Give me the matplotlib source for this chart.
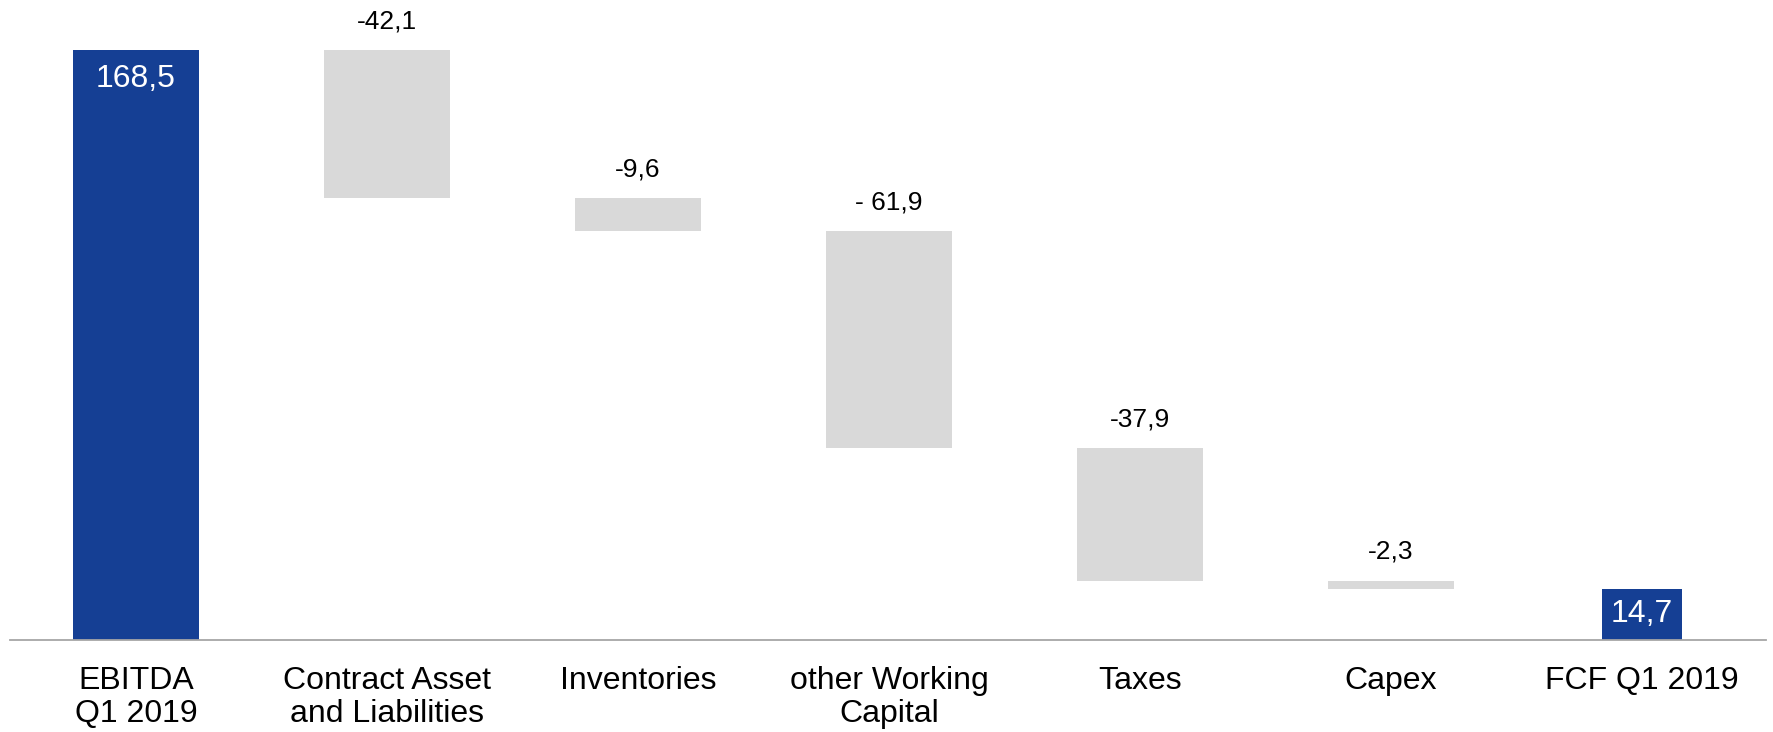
import matplotlib.pyplot as plt
import numpy as np

plt.rcParams['font.family'] = ['Liberation Sans', 'DejaVu Sans']

categories = ['EBITDA\nQ1 2019', 'Contract Asset\nand Liabilities', 'Inventories',
              'other Working\nCapital', 'Taxes', 'Capex', 'FCF Q1 2019']
values = [168.5, -42.1, -9.6, -61.9, -37.9, -2.3, 14.7]
value_labels = ['168,5', '-42,1', '-9,6', '- 61,9', '-37,9', '-2,3', '14,7']
is_total = [True, False, False, False, False, False, True]

BLUE = '#153f94'
GREY = '#d9d9d9'

# waterfall bottoms
bottoms = []
heights = []
run = 0.0
for v, tot in zip(values, is_total):
    if tot:
        bottoms.append(0.0)
        heights.append(v)
        run = v
    else:
        bottoms.append(run + v)
        heights.append(-v)
        run = run + v

x = np.arange(len(categories))
widths = [0.5] * (len(categories) - 1) + [0.315]
colors = [BLUE if t else GREY for t in is_total]

fig = plt.figure(figsize=(17.73, 7.32), dpi=100)
ax = fig.add_axes([10 / 1773, 92 / 732, 1756 / 1773, 640 / 732])

ax.bar(x, heights, bottom=bottoms, width=widths, color=colors, linewidth=0)

for i, (b, h, lab, tot) in enumerate(zip(bottoms, heights, value_labels, is_total)):
    if tot:
        if i == 0:
            ax.annotate(lab, (x[i], b + h), xytext=(0, -10), textcoords='offset points',
                        ha='center', va='top', color='white', fontsize=23)
        else:
            ax.text(x[i], b + h / 2, lab, ha='center', va='center',
                    color='white', fontsize=23)
    else:
        ax.annotate(lab, (x[i], b + h), xytext=(0, 12), textcoords='offset points',
                    ha='center', va='bottom', color='black', fontsize=19)

ax.set_xlim(-0.502, 6.494)
ax.set_ylim(0, 182.9)
ax.set_xticks(x)
ax.set_xticklabels(categories, fontsize=23, linespacing=1.1)
ax.tick_params(axis='x', length=0, pad=19)
ax.set_yticks([])
for s in ['top', 'right', 'left']:
    ax.spines[s].set_visible(False)
ax.spines['bottom'].set_color('#a6a6a6')
ax.spines['bottom'].set_linewidth(1.3)

fig.savefig('out.png', dpi=100)
